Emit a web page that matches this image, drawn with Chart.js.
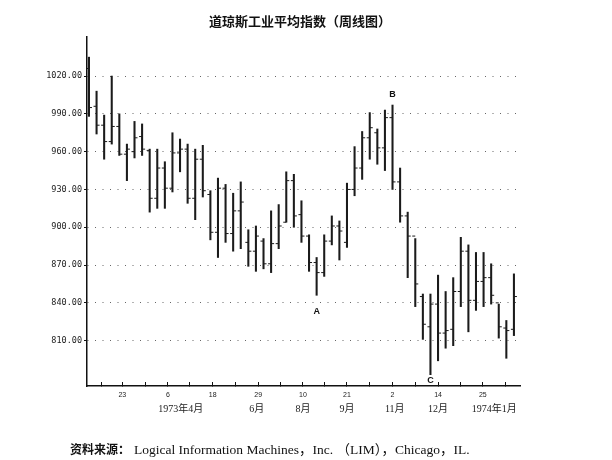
<!DOCTYPE html>
<html lang="zh">
<head>
  <meta charset="UTF-8">
  <title>道琼斯工业平均指数（周线图）</title>
  <script src="https://cdn.jsdelivr.net/npm/chart.js"></script>
  <style>
    body {
      margin: 0;
      background: #fff;
    }
    #wrap {
      position: relative;
      width: 612px;
      height: 460px;
    }
    #title {
      position: absolute;
      left: 0;
      width: 600px;
      top: 11px;
      text-align: center;
      font: bold 13px "Noto Sans CJK SC", sans-serif;
      color: #111;
    }
    #source {
      position: absolute;
      left: 70px;
      top: 438px;
      font: 13.5px "Liberation Serif", "Noto Sans CJK SC", serif;
      color: #111;
      white-space: nowrap;
    }
    #source b {
      font: bold 12px "Noto Sans CJK SC", sans-serif;
      margin-right: 4px;
    }
  </style>
</head>
<body>
  <div id="wrap">
    <canvas id="chart" width="612" height="460"></canvas>
    <div id="title">道琼斯工业平均指数（周线图）</div>
    <div id="source"><b>资料来源：</b>Logical Information Machines，Inc. （LIM），Chicago，IL.</div>
  </div>

  <script>
    // weekly bars (one entry per week)
    const highs  = [1035, 1008, 989, 1020, 990, 966, 984, 982, 962, 962, 952, 975, 970, 966, 962, 965, 929, 939, 934, 927,
                    936, 898, 901, 891, 913, 918, 944, 942, 921, 894, 876, 894, 909, 905, 935, 964, 976, 991, 978, 993,
                    997, 947, 912, 891, 847, 847, 862, 849, 860, 892, 886, 880, 880, 871, 839, 826, 863];
    const lows   = [988, 974, 954, 966, 957, 937, 955, 957, 912, 915, 915, 928, 944, 919, 906, 924, 890, 876, 888, 881,
                    883, 869, 865, 867, 864, 883, 904, 900, 888, 865, 846, 861, 886, 874, 884, 925, 938, 954, 950, 945,
                    930, 904, 860, 837, 811, 783, 794, 804, 806, 837, 817, 834, 837, 839, 812, 796, 814];
    const opens  = [1026, 996, 981, 968, 980, 958, 960, 972, 961, 923, 947, 931, 959, 962, 923, 954, 926, 896, 931, 895,
                    913, 888, 881, 889, 871, 887, 904, 937, 910, 893, 872, 864, 889, 901, 888, 930, 947, 971, 975, 963,
                    987, 936, 909, 893, 845, 821, 839, 816, 819, 849, 881, 842, 857, 860, 840, 820, 819];
    const closes = [995, 981, 968, 980, 958, 962, 971, 962, 923, 947, 931, 959, 962, 923, 954, 929, 896, 931, 895, 913,
                    920, 881, 893, 871, 887, 901, 937, 909, 893, 872, 864, 889, 901, 897, 930, 947, 971, 979, 963, 987,
                    936, 909, 893, 855, 823, 839, 816, 818, 849, 881, 842, 857, 860, 846, 821, 818, 845];

    // axis ticks (in weeks from the first bar) and their labels
    const xTickPos    = [1.6, 4.4, 7.4, 10.4, 13.3, 16.3, 19.3, 22.3, 25.2, 28.2, 31.1, 34.0, 37.0, 40.0, 43.0, 46.0, 49.0, 51.9, 54.9];
    const xTickLabels = ['', '23', '', '6', '', '18', '', '29', '', '10', '', '21', '', '2', '', '14', '', '25', ''];
    const monthPos    = [12.1, 22.1, 28.2, 34.0, 40.3, 46.0, 53.4];
    const monthLabels = ['1973年4月', '6月', '8月', '9月', '11月', '12月', '1974年1月'];
    const yTicks      = [810, 840, 870, 900, 930, 960, 990, 1020];

    // A / B / C turning points
    const markLabels = ['A', 'B', 'C'];
    const markWeeks  = [30, 40, 45];
    const markValues = [833, 1005, 778];

    const weeks = highs.map((_, i) => i);

    const markPlugin = {
      id: 'marks',
      afterDatasetsDraw(chart) {
        const {ctx, scales: {x, y}} = chart;
        ctx.save();
        ctx.font = 'bold 9px "Liberation Sans", sans-serif';
        ctx.fillStyle = '#111';
        ctx.textAlign = 'center';
        ctx.textBaseline = 'middle';
        markLabels.forEach((t, k) => {
          ctx.fillText(t, x.getPixelForValue(markWeeks[k]), y.getPixelForValue(markValues[k]));
        });
        ctx.restore();
      }
    };

    const ctx = document.getElementById('chart').getContext('2d');
    new Chart(ctx, {
      type: 'bar',
      data: {
        datasets: [{
          label: 'High-Low',
          data: weeks.map(i => ({x: i, y: [lows[i], highs[i]]})),
          backgroundColor: '#1b1b1b',
          barThickness: 1.4,
          borderSkipped: false
        },
        {
          type: 'scatter',
          label: 'Open',
          data: weeks.map(i => ({x: i - 0.2, y: opens[i]})),
          pointStyle: 'line',
          radius: 1.5,
          borderWidth: 1,
          borderColor: '#1b1b1b'
        },
        {
          type: 'scatter',
          label: 'Close',
          data: weeks.map(i => ({x: i + 0.2, y: closes[i]})),
          pointStyle: 'line',
          radius: 1.5,
          borderWidth: 1,
          borderColor: '#1b1b1b'
        }]
      },
      options: {
        responsive: false,
        animation: false,
        layout: {
          padding: {left: 0, right: 92, top: 37, bottom: 38}
        },
        scales: {
          x: {
            type: 'linear',
            position: 'bottom',
            min: -0.26,
            max: 56.8,
            offset: false,
            afterBuildTicks: scale => { scale.ticks = xTickPos.map(v => ({value: v})); },
            afterFit: scale => { scale.height = 16; },
            ticks: {
              autoSkip: false,
              maxRotation: 0,
              padding: 9,
              color: '#222',
              font: {size: 7, family: '"Liberation Sans", sans-serif'},
              callback: (value, index) => xTickLabels[index]
            },
            grid: {
              offset: false,
              drawOnChartArea: false,
              tickLength: -4,
              tickColor: '#111',
              tickWidth: 1
            },
            border: {color: '#111', width: 1.5}
          },
          x2: {
            type: 'linear',
            position: 'bottom',
            min: -0.26,
            max: 56.8,
            offset: false,
            afterBuildTicks: scale => { scale.ticks = monthPos.map(v => ({value: v})); },
            afterFit: scale => { scale.height = 20; },
            ticks: {
              autoSkip: false,
              maxRotation: 0,
              padding: 1,
              color: '#222',
              font: {size: 10, family: '"Liberation Serif", "Noto Sans CJK SC", serif'},
              callback: (value, index) => monthLabels[index]
            },
            grid: {display: false, drawTicks: false},
            border: {display: false}
          },
          y: {
            min: 774,
            max: 1051,
            beginAtZero: false,
            afterBuildTicks: scale => { scale.ticks = yTicks.map(v => ({value: v})); },
            afterFit: scale => { scale.width = 87; },
            ticks: {
              padding: 2,
              color: '#222',
              font: {size: 8.5, family: '"DejaVu Sans Mono", monospace'},
              callback: value => value.toFixed(2)
            },
            grid: {
              color: '#666',
              lineWidth: 1,
              tickLength: 3,
              tickColor: '#111'
            },
            border: {color: '#111', width: 1.5, dash: [1, 6.5]}
          }
        },
        plugins: {
          legend: {display: false},
          tooltip: {enabled: false}
        }
      },
      plugins: [markPlugin]
    });
  </script>
</body>
</html>
